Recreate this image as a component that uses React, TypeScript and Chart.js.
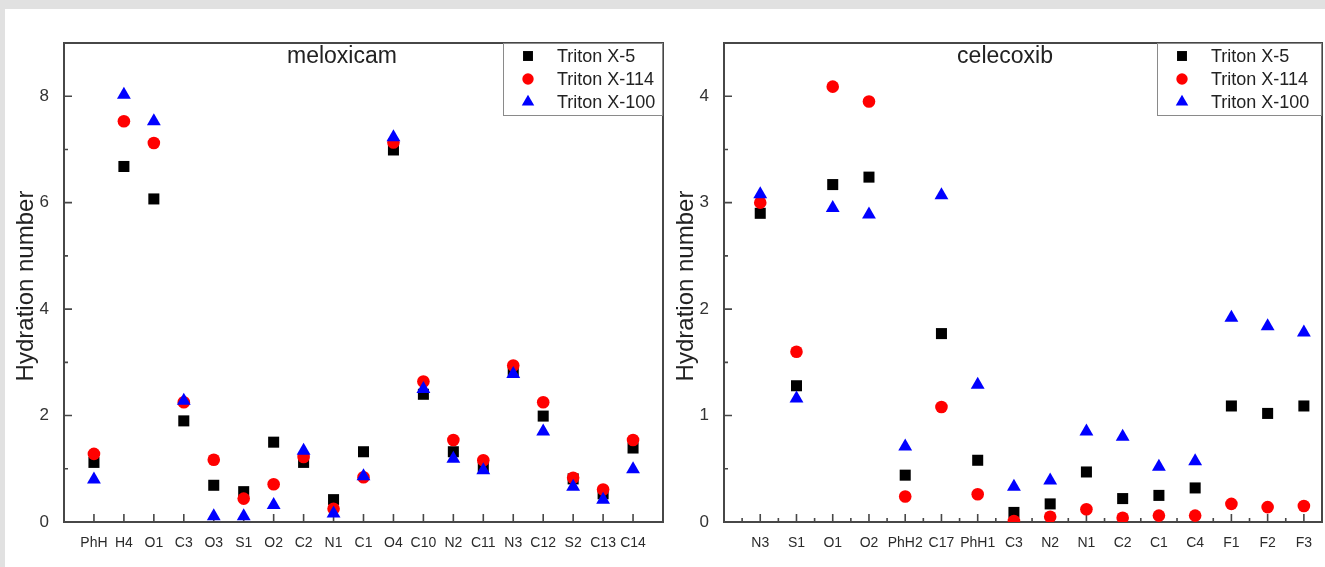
import React, { useEffect, useRef } from 'react';
import { Chart, registerables } from 'chart.js';

Chart.register(...registerables);

// Hydration numbers per atom site for three Triton surfactants.
const meloxicamSites = ['PhH', 'H4', 'O1', 'C3', 'O3', 'S1', 'O2', 'C2', 'N1', 'C1', 'O4', 'C10', 'N2', 'C11', 'N3', 'C12', 'S2', 'C13', 'C14'];
const meloxicamX5 = [1.12, 6.68, 6.07, 1.9, 0.69, 0.57, 1.5, 1.12, 0.42, 1.32, 6.99, 2.4, 1.32, 1.03, 2.84, 1.99, 0.81, 0.53, 1.39];
const meloxicamX114 = [1.28, 7.53, 7.12, 2.25, 1.17, 0.44, 0.71, 1.22, 0.25, 0.84, 7.13, 2.64, 1.54, 1.16, 2.94, 2.25, 0.83, 0.61, 1.54];
const meloxicamX100 = [0.8, 8.03, 7.53, 2.28, 0.11, 0.11, 0.32, 1.34, 0.16, 0.86, 7.23, 2.5, 1.19, 0.97, 2.78, 1.7, 0.66, 0.42, 0.99];

const celecoxibSites = ['N3', 'S1', 'O1', 'O2', 'PhH2', 'C17', 'PhH1', 'C3', 'N2', 'N1', 'C2', 'C1', 'C4', 'F1', 'F2', 'F3'];
const celecoxibX5 = [2.9, 1.28, 3.17, 3.24, 0.44, 1.77, 0.58, 0.09, 0.17, 0.47, 0.22, 0.25, 0.32, 1.09, 1.02, 1.09];
const celecoxibX114 = [3.0, 1.6, 4.09, 3.95, 0.24, 1.08, 0.26, 0.01, 0.05, 0.12, 0.04, 0.06, 0.06, 0.17, 0.14, 0.15];
const celecoxibX100 = [3.08, 1.16, 2.95, 2.89, 0.71, 3.07, 1.29, 0.33, 0.39, 0.85, 0.8, 0.52, 0.57, 1.92, 1.84, 1.78];

const seriesNames = ['Triton X-5', 'Triton X-114', 'Triton X-100'];
const seriesColors = ['#000000', '#ff0000', '#0000ff'];
const seriesShapes = ['rect', 'circle', 'triangle'];
const seriesRadius = [7.8, 6.3, 8];

const FONT = '"Liberation Sans", Arial, Helvetica, sans-serif';
const AXIS = '#474747';

type PanelProps = {
  title: string;
  sites: string[];
  values: number[][];
  yMax: number;
  yMajor: number;
  yMinor: number;
  xMax: number;
  xMinor: boolean;
  left: number;
  width: number;
  plotRight: number;
  titleFrac: number;
  legendWidth: number;
};

function drawMarker(ctx: CanvasRenderingContext2D, shape: string, x: number, y: number, r: number) {
  ctx.beginPath();
  if (shape === 'rect') {
    const s = r * Math.SQRT1_2;
    ctx.rect(x - s, y - s, 2 * s, 2 * s);
  } else if (shape === 'circle') {
    ctx.arc(x, y, r, 0, Math.PI * 2);
  } else {
    const w = r * Math.sin(Math.PI / 3);
    ctx.moveTo(x, y - r);
    ctx.lineTo(x + w, y + r / 2);
    ctx.lineTo(x - w, y + r / 2);
    ctx.closePath();
  }
  ctx.fill();
}

function Panel(props: PanelProps) {
  const ref = useRef<HTMLCanvasElement | null>(null);

  useEffect(() => {
    const canvas = ref.current;
    if (!canvas) return;
    const { sites, values, yMax, yMajor, yMinor, xMax, xMinor, title, titleFrac, legendWidth } = props;

    const framePlugin = {
      id: 'frame',
      beforeDatasetsDraw(chart: any) {
        const { ctx, chartArea } = chart;
        const xs = chart.scales.x;
        const ys = chart.scales.y;
        const { left, right, top, bottom } = chartArea;
        ctx.save();
        ctx.strokeStyle = AXIS;
        ctx.lineWidth = 2;
        ctx.strokeRect(left, top, right - left, bottom - top);
        ctx.lineWidth = 1.6;
        ctx.beginPath();
        for (let i = 0; i < sites.length; i++) {
          const px = xs.getPixelForValue(i);
          ctx.moveTo(px, bottom);
          ctx.lineTo(px, bottom - 8);
        }
        if (xMinor) {
          for (let v = -0.5; v < xMax; v += 1) {
            const px = xs.getPixelForValue(v);
            ctx.moveTo(px, bottom);
            ctx.lineTo(px, bottom - 4);
          }
        }
        for (let v = yMinor; v < yMax; v += yMinor) {
          const py = ys.getPixelForValue(v);
          const major = Math.abs(v / yMajor - Math.round(v / yMajor)) < 1e-6;
          ctx.moveTo(left, py);
          ctx.lineTo(left + (major ? 8 : 4), py);
        }
        ctx.stroke();
        ctx.restore();
      },
      afterDraw(chart: any) {
        const { ctx, chartArea } = chart;
        const { left, right, top } = chartArea;
        ctx.save();
        // panel title
        ctx.fillStyle = '#222';
        ctx.font = `23px ${FONT}`;
        ctx.textAlign = 'center';
        ctx.textBaseline = 'middle';
        ctx.fillText(title, left + (right - left) * titleFrac, top + 14);

        // y axis title
        ctx.save();
        ctx.translate(26, 286);
        ctx.rotate(-Math.PI / 2);
        ctx.font = `24px ${FONT}`;
        ctx.fillText('Hydration number', 0, 0);
        ctx.restore();

        // legend box
        const bx = right - legendWidth;
        ctx.fillStyle = '#ffffff';
        ctx.fillRect(bx, top, legendWidth, 73);
        ctx.strokeStyle = '#8a8a8a';
        ctx.lineWidth = 1;
        ctx.strokeRect(bx + 0.5, top + 0.5, legendWidth - 1, 72);
        ctx.font = `18px ${FONT}`;
        ctx.textAlign = 'left';
        for (let k = 0; k < 3; k++) {
          const ry = top + 13 + k * 23;
          ctx.fillStyle = seriesColors[k];
          drawMarker(ctx, seriesShapes[k], bx + 25, ry, seriesRadius[k] * 0.9);
          ctx.fillStyle = '#222';
          ctx.fillText(seriesNames[k], bx + 54, ry + 1);
        }
        ctx.restore();
      },
    };

    const chart = new Chart(canvas, {
      type: 'scatter',
      data: {
        datasets: values.map((vals, k) => ({
          label: seriesNames[k],
          data: vals.map((y, i) => ({ x: i, y })),
          pointStyle: seriesShapes[k] as any,
          pointRadius: seriesRadius[k],
          pointHoverRadius: seriesRadius[k],
          pointBackgroundColor: seriesColors[k],
          pointBorderColor: seriesColors[k],
          pointBorderWidth: 0,
          showLine: false,
          order: 2 - k,
        })),
      },
      options: {
        animation: false,
        responsive: false,
        maintainAspectRatio: false,
        events: [],
        layout: {
          autoPadding: false,
          padding: { left: 0, top: 43, right: props.width - props.plotRight, bottom: 0 },
        },
        plugins: { legend: { display: false }, tooltip: { enabled: false }, title: { display: false } },
        scales: {
          x: {
            type: 'linear',
            min: -1,
            max: xMax,
            afterBuildTicks: (s: any) => {
              s.ticks = sites.map((_, i) => ({ value: i }));
            },
            afterFit: (s: any) => {
              s.height = 45;
              s.paddingLeft = 0;
              s.paddingRight = 0;
            },
            grid: { display: false },
            border: { display: false },
            ticks: {
              autoSkip: false,
              maxRotation: 0,
              padding: 5,
              color: '#2b2b2b',
              font: { family: FONT, size: 14 },
              callback: (v: any) => (Number.isInteger(v) && v >= 0 && v < sites.length ? sites[v] : ''),
            },
          },
          y: {
            min: 0,
            max: yMax,
            afterBuildTicks: (s: any) => {
              const t: { value: number }[] = [];
              for (let v = 0; v < yMax; v += yMajor) t.push({ value: v });
              s.ticks = t;
            },
            afterFit: (s: any) => {
              s.width = 64;
            },
            grid: { display: false },
            border: { display: false },
            ticks: {
              padding: 7,
              color: '#333',
              font: { family: FONT, size: 17 },
              callback: (v: any) => String(v),
            },
          },
        },
      },
      plugins: [framePlugin],
    });
    return () => chart.destroy();
  }, []);

  return (
    <canvas
      ref={ref}
      width={props.width}
      height={567}
      style={{ position: 'absolute', left: props.left, top: 0, width: props.width, height: 567 }}
    />
  );
}

export default function App() {
  return (
    <div style={{ position: 'fixed', left: 0, top: 0, width: 1325, height: 567, background: '#e1e1e1', overflow: 'hidden' }}>
      <div style={{ position: 'absolute', left: 5, top: 9, right: 0, bottom: 0, background: '#ffffff' }} />
      <Panel
        title="meloxicam"
        sites={meloxicamSites}
        values={[meloxicamX5, meloxicamX114, meloxicamX100]}
        yMax={9}
        yMajor={2}
        yMinor={1}
        xMax={19}
        xMinor={false}
        left={0}
        width={670}
        plotRight={663}
        titleFrac={0.464}
        legendWidth={160}
      />
      <Panel
        title="celecoxib"
        sites={celecoxibSites}
        values={[celecoxibX5, celecoxibX114, celecoxibX100]}
        yMax={4.5}
        yMajor={1}
        yMinor={0.5}
        xMax={15.5}
        xMinor={true}
        left={660}
        width={665}
        plotRight={662}
        titleFrac={0.47}
        legendWidth={165}
      />
    </div>
  );
}
